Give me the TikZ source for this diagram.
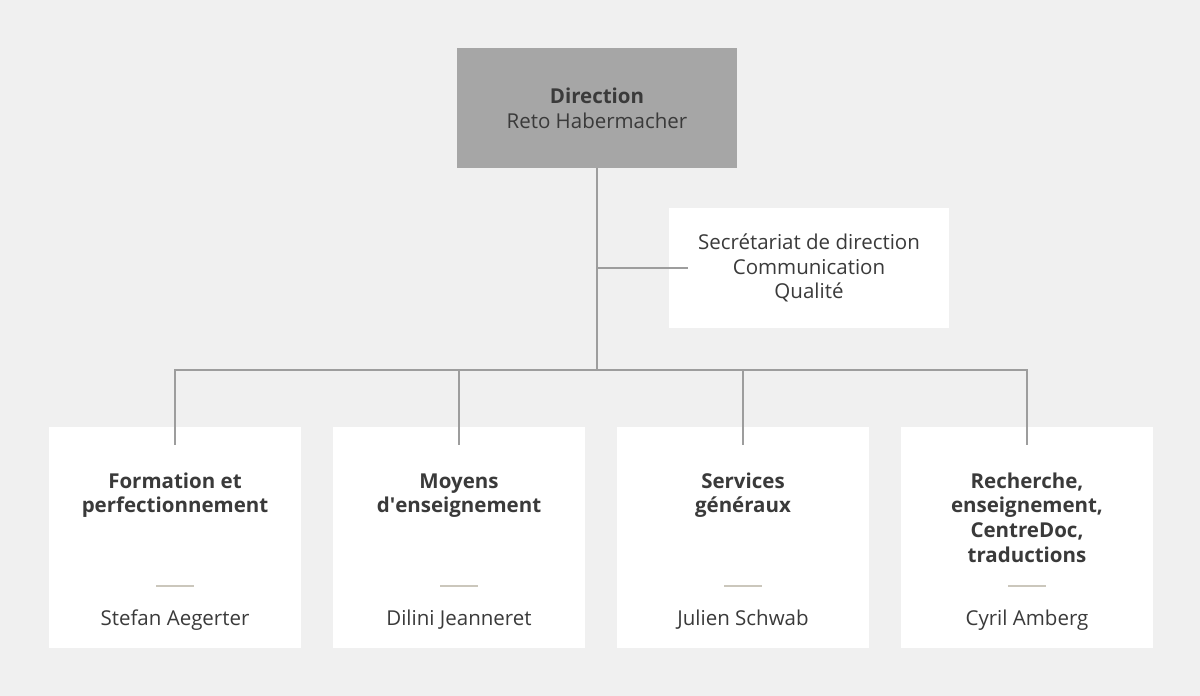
\documentclass[tikz,border=0pt]{standalone}
\usepackage{fontspec}
\setmainfont{Open Sans}
\usetikzlibrary{positioning}
\definecolor{bgcol}{HTML}{F0F0F0}
\definecolor{headcol}{HTML}{A6A6A6}
\definecolor{linecol}{HTML}{9D9D9D}
\definecolor{txtcol}{HTML}{3A3A3A}
\definecolor{sepcol}{HTML}{CBC7BC}

\begin{document}
\begin{tikzpicture}[x=1pt,y=-1pt,
  unitbox/.style={fill=white,minimum width=252pt,minimum height=221pt,inner sep=0pt},
  lbl/.style={text=txtcol,font=\fontsize{20.5}{24.7}\selectfont,align=center,inner sep=0pt},
  conn/.style={draw=linecol,line width=2.5pt}]
  \fill[bgcol](0,0)rectangle(1200,696);
  \useasboundingbox(0,0)rectangle(1200,696);
  \node[fill=headcol,minimum width=280pt,minimum height=120pt,inner sep=0pt](dir)at(597,108){};
  \node[lbl](dirtxt)at(dir){\textbf{Direction}\\Reto Habermacher};
  \node[fill=white,minimum width=280pt,minimum height=120pt,inner sep=0pt](sec)at(809,268){};
  \node[lbl](sectxt)at(sec){Secrétariat de direction\\Communication\\Qualité};
  \coordinate(hub)at(597,370);
  \coordinate(sechub)at(597,268);
  \foreach \i/\x/\y/\title/\name in {1/175/512.7/{Formation et\\perfectionnement}/Stefan Aegerter,
      2/459/512.7/{Moyens\\d\textquotesingle enseignement}/Dilini Jeanneret,
      3/743/512.7/{Services\\généraux}/Julien Schwab,
      4/1027/562.1/{Recherche,\\enseignement,\\CentreDoc,\\traductions}/Cyril Amberg}{
    \node[unitbox](unit\i)at(\x,537.5){};
    \node[lbl,font=\fontsize{20.5}{24.7}\selectfont\bfseries,anchor=base](title\i)at(\x,\y){\title};
    \node[lbl,anchor=base](name\i)at(\x,625){\name};
    \draw[sepcol,line width=1.5pt]([xshift=-19pt]\x,586)--([xshift=19pt]\x,586);
    \draw[conn](hub)-|([yshift=-18pt]unit\i.north);
  }
  \draw[conn](dir.south)--(hub);
  \draw[conn](sechub)--([xshift=19pt]sec.west);
\end{tikzpicture}
\end{document}
